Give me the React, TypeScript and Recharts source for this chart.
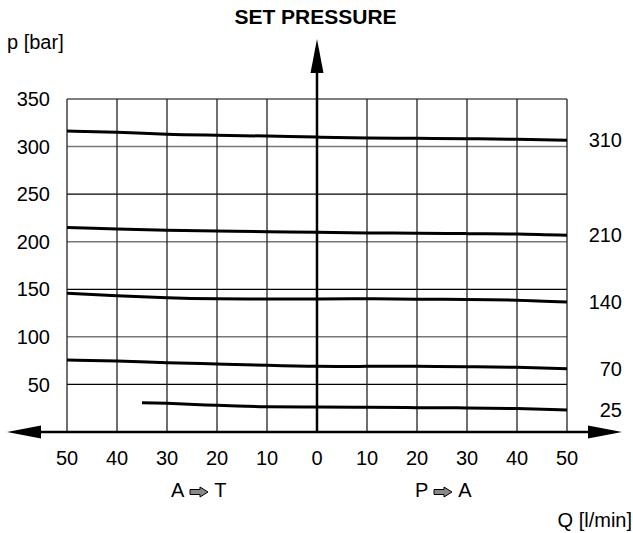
import React from 'react';
import { LineChart, Line, XAxis, YAxis, ReferenceLine, ReferenceDot } from 'recharts';

const qTicks = [-50, -40, -30, -20, -10, 0, 10, 20, 30, 40, 50];
const pTicks = [50, 100, 150, 200, 250, 300, 350];
const qMain = [-50, -40, -30, -20, -10, 0, 10, 20, 30, 40, 50];
const p310 = [316.4, 315, 313, 312, 311, 310, 309, 308.7, 308.3, 307.6, 306.6];
const p210 = [215, 213.4, 212, 211.3, 210.6, 209.9, 209.2, 209, 208.5, 208.1, 206.7];
const p140 = [145.8, 143.3, 141.2, 140.1, 139.8, 139.8, 140, 139.6, 139.3, 138.6, 136.6];
const p70 = [75.7, 74.6, 72.9, 71.5, 70.1, 69, 69, 69, 68.7, 68, 66.5];
const q25 = [-35, -30, -20, -10, 0, 10, 20, 30, 40, 50];
const p25 = [30.8, 30.1, 28, 26.6, 26.3, 26, 25.6, 25.3, 24.6, 23.1];
const curveLabels = ['310', '210', '140', '70', '25'];

const FONT = '"Liberation Sans", Arial, sans-serif';
const FS = 20;

const build = (qs: number[], ps: number[]) => qs.map((q, i) => ({ q, p: ps[i] }));
const curves = [
  build(qMain, p310),
  build(qMain, p210),
  build(qMain, p140),
  build(qMain, p70),
  build(q25, p25),
];

const makeLabel = (text: string, len: number) => (props: any) => {
  const { x, y, index } = props;
  if (index !== len - 1) return null;
  return (
    <text
      x={x + 55}
      y={y}
      dy="0.355em"
      textAnchor="end"
      fill="#000"
      fontFamily="Liberation Sans"
      fontSize={FS}
      style={{ fontFamily: FONT, fontSize: FS }}
    >
      {text}
    </text>
  );
};

const arrow = (dir: 'left' | 'right' | 'up') => (props: any) => {
  const { cx, cy } = props;
  const L = 34;
  const H = 6.5;
  let pts = '';
  if (dir === 'left') pts = `${cx},${cy} ${cx + L},${cy - H} ${cx + L},${cy + H}`;
  if (dir === 'right') pts = `${cx},${cy} ${cx - L},${cy - H} ${cx - L},${cy + H}`;
  if (dir === 'up') pts = `${cx},${cy} ${cx - H},${cy + L} ${cx + H},${cy + L}`;
  return <polygon points={pts} fill="#000" />;
};

const FlowArrow = () => (
  <svg width={20} height={12} viewBox="0 0 20 12" style={{ margin: '0 5px', verticalAlign: 'middle' }}>
    <polygon points="1,3.5 11,3.5 11,1 19,6 11,11 11,8.5 1,8.5" fill="#888" stroke="#000" strokeWidth={1} />
  </svg>
);

export default function App() {
  return (
    <div style={{ position: 'absolute', left: 0, top: 0, width: 633, height: 533, background: '#fff', fontFamily: FONT }}>
      <LineChart
        width={633}
        height={533}
        margin={{ top: 99, right: 66, left: 0, bottom: 0 }}
        style={{ fontFamily: FONT }}
      >
        <XAxis
          type="number"
          dataKey="q"
          domain={[-50, 50]}
          ticks={qTicks}
          allowDataOverflow
          tickFormatter={(v: number) => String(Math.abs(v))}
          axisLine={false}
          tickLine={false}
          tickSize={0}
          tickMargin={19}
          height={101}
          tick={{ fill: '#000', fontSize: FS, fontFamily: FONT }}
        />
        <YAxis
          type="number"
          dataKey="p"
          domain={[0, 350]}
          ticks={pTicks}
          allowDataOverflow
          axisLine={false}
          tickLine={false}
          tickSize={0}
          tickMargin={17}
          width={67}
          tick={{ fill: '#000', fontSize: FS, fontFamily: FONT }}
        />
        {pTicks.map((v) => (
          <ReferenceLine
            key={'h' + v}
            y={v}
            stroke={v % 100 === 0 ? '#777' : '#000'}
            strokeWidth={v % 100 === 0 ? 1.5 : 1.2}
          />
        ))}
        {qTicks
          .filter((v) => v !== 0)
          .map((v) => (
            <ReferenceLine key={'v' + v} x={v} stroke="#222" strokeWidth={1.3} />
          ))}
        <ReferenceLine
          segment={[{ x: -56, y: 0 }, { x: 56, y: 0 }]}
          stroke="#000"
          strokeWidth={2.5}
          ifOverflow="visible"
        />
        <ReferenceLine
          segment={[{ x: 0, y: 0 }, { x: 0, y: 380 }]}
          stroke="#000"
          strokeWidth={2.5}
          ifOverflow="visible"
        />
        <ReferenceDot x={-62} y={0} r={0} ifOverflow="visible" shape={arrow('left')} />
        <ReferenceDot x={61} y={0} r={0} ifOverflow="visible" shape={arrow('right')} />
        <ReferenceDot x={0} y={413} r={0} ifOverflow="visible" shape={arrow('up')} />
        {curves.map((d, i) => (
          <Line
            key={'c' + i}
            data={d}
            dataKey="p"
            type="natural"
            stroke="#000"
            strokeWidth={3}
            dot={false}
            activeDot={false}
            isAnimationActive={false}
            label={makeLabel(curveLabels[i], d.length)}
          />
        ))}
      </LineChart>
      <div style={{ position: 'absolute', left: 0, width: 633, top: 4, textAlign: 'center', fontWeight: 'bold', fontSize: 21, lineHeight: '26px' }}>
        <span style={{ position: 'relative', left: -1 }}>SET PRESSURE</span>
      </div>
      <div style={{ position: 'absolute', left: 7, top: 30, fontSize: FS, lineHeight: '24px' }}>p [bar]</div>
      <div style={{ position: 'absolute', left: 171, top: 478, fontSize: FS, lineHeight: '24px', whiteSpace: 'nowrap' }}>
        A<FlowArrow />T
      </div>
      <div style={{ position: 'absolute', left: 415, top: 478, fontSize: FS, lineHeight: '24px', whiteSpace: 'nowrap' }}>
        P<FlowArrow />A
      </div>
      <div style={{ position: 'absolute', right: 1, top: 508, fontSize: FS, lineHeight: '24px', whiteSpace: 'nowrap' }}>Q [l/min]</div>
    </div>
  );
}
